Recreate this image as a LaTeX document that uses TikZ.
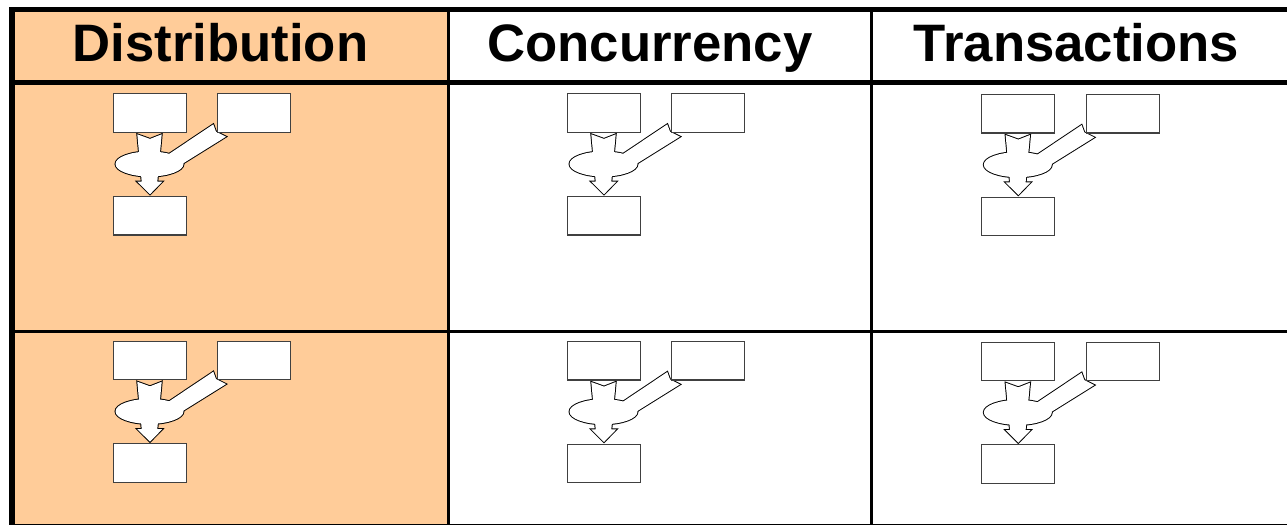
\documentclass[tikz,border=0pt]{standalone}
\usepackage{fontspec}
\setmainfont{Liberation Sans}
\usepackage{tikz}
\usetikzlibrary{positioning}
\usepackage{xcolor}
\definecolor{peach}{HTML}{FFCC99}

\begin{document}
\begin{tikzpicture}[x=0.02cm, y=-0.02cm]
    \tikzstyle{head} = [font=\fontsize{30}{32}\selectfont\bfseries, inner sep=0pt]
    \tikzstyle{box} = [rectangle, draw=black!75, line width=0.6pt, fill=white,
               minimum width=1.46cm, minimum height=0.77cm, inner sep=0pt,
               anchor=north west]
    \tikzstyle{glyphline} = [draw=black, line width=1.1pt, fill=white]
    \tikzstyle{glyphfill} = [fill=white]
    \tikzstyle{rule} = [draw=black, line width=1.7pt]

    \useasboundingbox (0,0) rectangle (1287,524);
    \clip (0,0) rectangle (1287,524);

    % first column background
    \fill[peach] (12,9.5) rectangle (448,530);

    % table lines
    \draw[rule, line width=2.8pt] (9,9.5) -- (1300,9.5);
    \draw[rule, line width=2.8pt] (9,82.5) -- (1300,82.5);
    \draw[rule] (9,331.7) -- (1300,331.7);
    \draw[rule] (9,525) -- (1300,525);
    \draw[rule, line width=3.4pt] (12,7) -- (12,530);
    \draw[rule] (448,9.5) -- (448,530);
    \draw[rule] (871.3,9.5) -- (871.3,530);

    % column headers
    \node[head, anchor=base] (hdist)  at (220.5,61.7) {Distribution};
    \node[head, anchor=base] (hconc)  at (650,61.7)   {Concurrency};
    \node[head, anchor=base] (htrans) at (1076.5,61.7) {Transactions};

    % merge glyph in every cell
    \foreach \cx/\cy/\id in {112.7/93.3/da, 566.7/93.3/ca, 981/94/ta,
                             112.7/340.7/db, 566.7/341/cb, 981/341.7/tb} {
      \begin{scope}[shift={(\cx,\cy)}]
        \foreach \pass in {glyphline,glyphfill} {
          \path[\pass] (24.6,41) -- (37.3,45.6) -- (49,41) -- (44.6,88.4)
            -- (49.6,88.4) -- (37.3,101) -- (24.6,88.4) -- (29,88.4) -- cycle;
          \path[\pass] (100.6,31) -- (103.3,38.4) -- (113.3,43.4)
            -- (57.8,78) -- (44.3,68.7) -- cycle;
          \path[\pass] (36.8,70.7) ellipse [x radius=34, y radius=12.5];
        }
        \node[box] (\id-in1) at (0,0) {};
        \node[box] (\id-in2) at (104.6,0) {};
        \node[box] (\id-out) at (0,102.7) {};
      \end{scope}
    }

\end{tikzpicture}
\end{document}
